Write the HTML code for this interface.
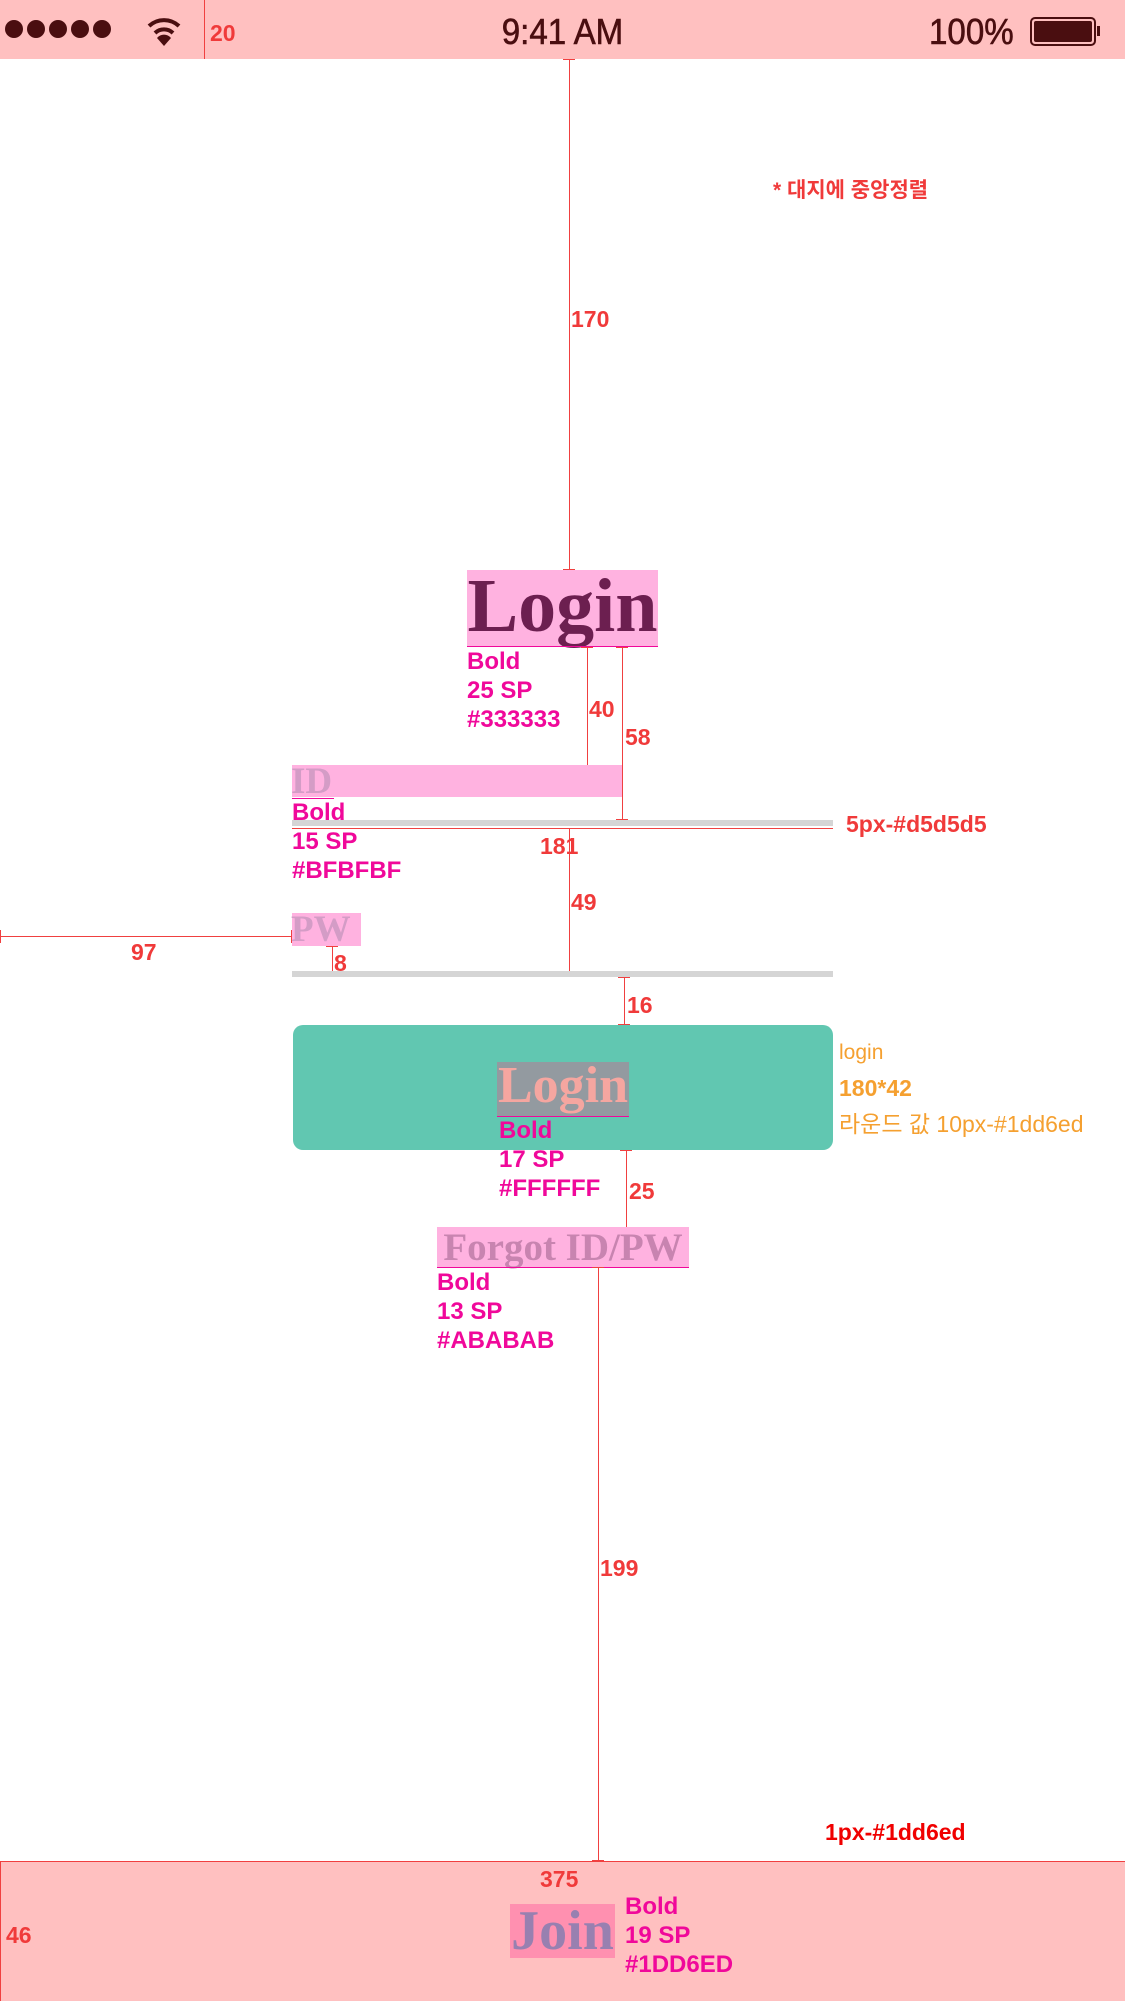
<!DOCTYPE html>
<html><head><meta charset="utf-8">
<style>
*{margin:0;padding:0;box-sizing:border-box}
body{width:1125px;height:2001px;position:relative;background:#fff;overflow:hidden;font-family:"Liberation Sans","Noto Sans CJK KR",sans-serif}
.a{position:absolute}
.r{position:absolute;color:#f03a3a;font-weight:bold;font-size:23px;line-height:26px;white-space:nowrap}
.m{position:absolute;color:#f0089a;font-weight:bold;font-size:24px;line-height:29px;white-space:nowrap}
.o{position:absolute;color:#f5a030;font-size:23px;line-height:26px;white-space:nowrap}
.vl{position:absolute;width:1px;background:#f04040}
.hl{position:absolute;height:1px;background:#f04040}
.serif{font-family:"Liberation Serif",serif;white-space:nowrap;line-height:1;font-weight:bold}
</style></head><body>
<!-- status bar -->
<div class="a" style="left:0;top:0;width:1125px;height:59px;background:#ffc0c0"></div>
<div class="a" style="left:5px;top:20px;display:flex;gap:4px">
<div style="width:18px;height:18px;border-radius:50%;background:#4a0e10"></div><div style="width:18px;height:18px;border-radius:50%;background:#4a0e10"></div><div style="width:18px;height:18px;border-radius:50%;background:#4a0e10"></div><div style="width:18px;height:18px;border-radius:50%;background:#4a0e10"></div><div style="width:18px;height:18px;border-radius:50%;background:#4a0e10"></div></div>
<svg class="a" style="left:146px;top:16px" width="36" height="32" viewBox="0 0 36 32"><path d="M3 10 A22 22 0 0 1 33 10" stroke="#4a0e10" stroke-width="4" fill="none"/><path d="M9 17 A13 13 0 0 1 27 17" stroke="#4a0e10" stroke-width="4" fill="none"/><path d="M18 30 L11 22 A9 9 0 0 1 25 22 Z" fill="#4a0e10"/></svg>
<div class="vl" style="left:204px;top:0;height:59px"></div>
<div class="r" style="left:210px;top:20px">20</div>
<div class="a" style="left:0;width:1125px;top:12px;text-align:center;font-size:36px;color:#4a0e10;line-height:40px;-webkit-text-stroke:0.6px #4a0e10;transform:scaleX(0.92)">9:41 AM</div>
<div class="a" style="left:929px;top:12px;font-size:36px;color:#4a0e10;line-height:40px;-webkit-text-stroke:0.6px #4a0e10;transform:scaleX(0.92);transform-origin:left">100%</div>
<div class="a" style="left:1030px;top:17px;width:66px;height:29px;border:2px solid #4a0e10;border-radius:5px;padding:2px"><div style="width:100%;height:100%;background:#4a0e10;border-radius:2px"></div></div>
<div class="a" style="left:1097px;top:26px;width:3px;height:10px;background:#4a0e10"></div>

<!-- center line -->
<div class="vl" style="left:569px;top:59px;height:511px"></div>
<div class="hl" style="left:563px;top:59px;width:12px"></div>
<div class="hl" style="left:563px;top:569px;width:12px"></div>
<div class="r" style="left:571px;top:306px">170</div>
<div class="r" style="left:773px;top:178px;font-size:21px">* 대지에 중앙정렬</div>

<!-- Login title -->
<div class="a" style="left:467px;top:570px;width:191px;height:77px;background:#ffb2e0"></div>
<div class="a serif" style="left:462px;top:568px;width:201px;text-align:center;font-size:76px;color:#6c1f50">Login</div>
<div class="hl" style="left:467px;top:646px;width:191px;background:#f0089a"></div>
<div class="m" style="left:467px;top:647px">Bold<br>25 SP<br>#333333</div>
<div class="vl" style="left:587px;top:647px;height:118px"></div>
<div class="hl" style="left:581px;top:647px;width:12px"></div><div class="hl" style="left:581px;top:765px;width:12px"></div>
<div class="r" style="left:589px;top:696px">40</div>
<div class="vl" style="left:622px;top:647px;height:172px"></div>
<div class="hl" style="left:616px;top:647px;width:12px"></div><div class="hl" style="left:616px;top:819px;width:12px"></div>
<div class="r" style="left:625px;top:724px">58</div>

<!-- ID -->
<div class="a" style="left:292px;top:765px;width:330px;height:32px;background:#ffb2e0"></div>
<div class="a serif" style="left:291px;top:763px;font-size:37px;color:#d49cc6">ID</div>
<div class="hl" style="left:292px;top:798px;width:42px;background:#f0089a"></div>
<div class="m" style="left:292px;top:798px">Bold<br>15 SP<br>#BFBFBF</div>
<div class="a" style="left:292px;top:820px;width:541px;height:6px;background:#d5d5d5"></div>
<div class="hl" style="left:292px;top:828px;width:541px"></div>
<div class="r" style="left:846px;top:811px">5px-#d5d5d5</div>
<div class="r" style="left:540px;top:833px">181</div>
<div class="vl" style="left:569px;top:828px;height:144px"></div>
<div class="hl" style="left:563px;top:828px;width:12px"></div><div class="hl" style="left:563px;top:971px;width:12px"></div>
<div class="r" style="left:571px;top:889px">49</div>

<!-- PW -->
<div class="a" style="left:292px;top:913px;width:69px;height:33px;background:#ffb2e0"></div>
<div class="a serif" style="left:291px;top:911px;font-size:37px;color:#d49cc6">PW</div>
<div class="hl" style="left:0;top:936px;width:292px"></div>
<div class="vl" style="left:0;top:930px;height:13px"></div><div class="vl" style="left:291px;top:930px;height:13px"></div>
<div class="r" style="left:131px;top:939px">97</div>
<div class="vl" style="left:332px;top:946px;height:25px"></div>
<div class="hl" style="left:326px;top:946px;width:12px"></div>
<div class="r" style="left:334px;top:950px">8</div>
<div class="a" style="left:292px;top:971px;width:541px;height:6px;background:#d5d5d5"></div>

<!-- 16 -->
<div class="vl" style="left:624px;top:977px;height:48px"></div>
<div class="hl" style="left:618px;top:977px;width:12px"></div><div class="hl" style="left:618px;top:1024px;width:12px"></div>
<div class="r" style="left:627px;top:992px">16</div>

<!-- button -->
<div class="a" style="left:293px;top:1025px;width:540px;height:125px;background:#61c7b1;border-radius:10px"></div>
<div class="a" style="left:497px;top:1062px;width:132px;height:54px;background:#939aa0"></div>
<div class="a serif" style="left:492px;top:1060px;width:142px;text-align:center;font-size:52px;color:#f5a6a0">Login</div>
<div class="hl" style="left:497px;top:1116px;width:132px;background:#f0089a"></div>
<div class="m" style="left:499px;top:1116px">Bold<br>17 SP<br>#FFFFFF</div>
<div class="o" style="left:839px;top:1040px;font-size:21px">login</div>
<div class="o" style="left:839px;top:1075px;font-weight:bold">180*42</div>
<div class="o" style="left:839px;top:1111px">라운드 값 10px-#1dd6ed</div>

<!-- 25 -->
<div class="vl" style="left:626px;top:1150px;height:77px"></div>
<div class="hl" style="left:620px;top:1150px;width:12px"></div><div class="hl" style="left:620px;top:1227px;width:12px"></div>
<div class="r" style="left:629px;top:1178px">25</div>

<!-- Forgot -->
<div class="a" style="left:437px;top:1227px;width:252px;height:40px;background:#ffb2e0"></div>
<div class="a serif" style="left:432px;top:1228px;width:262px;text-align:center;font-size:39px;color:#c884b0">Forgot ID/PW</div>
<div class="hl" style="left:437px;top:1267px;width:252px;background:#f0089a"></div>
<div class="m" style="left:437px;top:1268px">Bold<br>13 SP<br>#ABABAB</div>
<div class="vl" style="left:598px;top:1267px;height:594px"></div>
<div class="hl" style="left:592px;top:1267px;width:12px"></div><div class="hl" style="left:592px;top:1860px;width:12px"></div>
<div class="r" style="left:600px;top:1555px">199</div>
<div class="r" style="left:825px;top:1819px;color:#f00000">1px-#1dd6ed</div>

<!-- bottom bar -->
<div class="a" style="left:0;top:1861px;width:1125px;height:140px;background:#ffc0c0"></div>
<div class="hl" style="left:0;top:1861px;width:1125px"></div>
<div class="vl" style="left:0;top:1861px;height:140px"></div>
<div class="r" style="left:540px;top:1866px">375</div>
<div class="r" style="left:6px;top:1922px">46</div>
<div class="a" style="left:510px;top:1904px;width:105px;height:54px;background:#ff90b0"></div>
<div class="a serif" style="left:505px;top:1903px;width:115px;text-align:center;font-size:56px;color:#9880b0">Join</div>
<div class="m" style="left:625px;top:1892px">Bold<br>19 SP<br>#1DD6ED</div>
</body></html>
